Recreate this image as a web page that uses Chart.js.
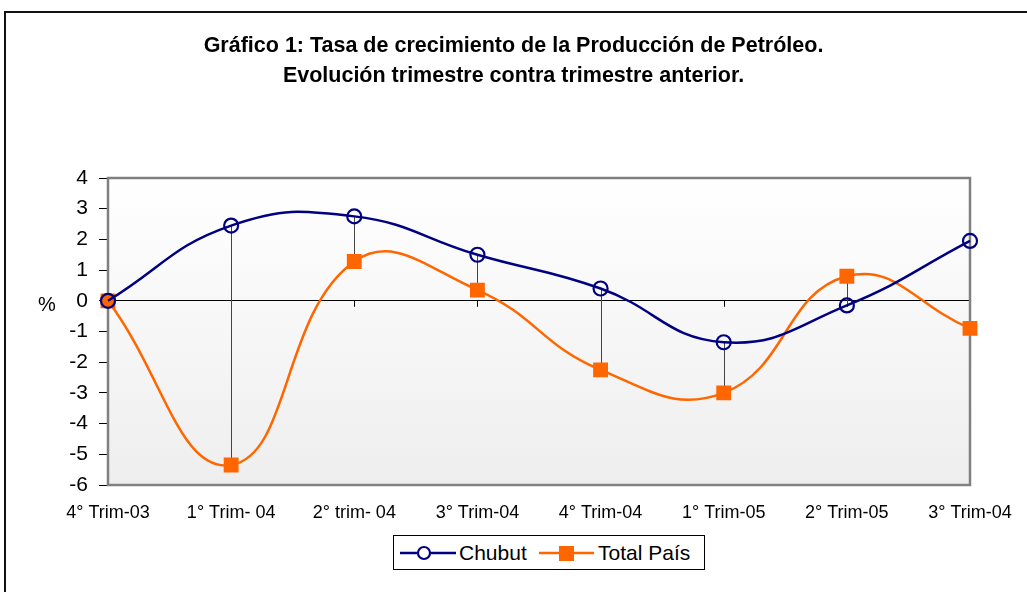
<!DOCTYPE html>
<html>
<head>
<meta charset="utf-8">
<script src="https://cdn.jsdelivr.net/npm/chart.js@4.4.0/dist/chart.umd.min.js"></script>
<style>
    html, body { margin: 0; padding: 0; background: #fff; overflow: hidden; }
    body { width: 1027px; height: 592px; position: relative; font-family: Arial, 'Liberation Sans', sans-serif; }
    #frame { position: absolute; left: 4px; top: 11px; width: 1100px; height: 700px; border: 2px solid #111; box-sizing: border-box; }
    #wrap { position: absolute; left: 0; top: 0; width: 1027px; height: 592px; }
    #legend {
        position: absolute; left: 393px; top: 535px; width: 312px; height: 35px;
        border: 1px solid #000; box-sizing: border-box; background: #fff;
        font-size: 21px; color: #000;
    }
    #legend svg, #legend span { position: absolute; }
    #legend span { top: 5px; line-height: 24px; }
</style>
</head>
<body>
<div id="frame"></div>
<div id="wrap"><canvas id="growthChart" width="1027" height="592"></canvas></div>
<div id="legend">
    <svg style="left:6px;top:7px" width="56" height="20"><line x1="0" y1="10" x2="56" y2="10" stroke="#000080" stroke-width="2.5"/><circle cx="24" cy="10" r="6" fill="#fff" stroke="#000080" stroke-width="2.2"/></svg>
    <span style="left:65px">Chubut</span>
    <svg style="left:145px;top:7px" width="55" height="20"><line x1="0" y1="10" x2="55" y2="10" stroke="#FF6600" stroke-width="2.5"/><rect x="20" y="3" width="15" height="15" fill="#FF6600"/></svg>
    <span style="left:204px">Total País</span>
</div>
<script>
// Data
const categories = ['4° Trim-03', '1° Trim- 04', '2° trim- 04', '3° Trim-04', '4° Trim-04', '1° Trim-05', '2° Trim-05', '3° Trim-04'];
const chubutValues = [0, 2.45, 2.75, 1.5, 0.4, -1.35, -0.15, 1.95];
const totalPaisValues = [0, -5.35, 1.28, 0.35, -2.25, -3.0, 0.8, -0.9];
const yMin = -6;
const yMax = 4;

const FONT = "Arial, 'Liberation Sans', sans-serif";

// Plot background, drop lines, zero-line ticks, border and the "%" label
const plotExtras = {
    id: 'plotExtras',
    beforeDraw(chart) {
        const { ctx, chartArea: a } = chart;
        const grad = ctx.createLinearGradient(0, a.top, 0, a.bottom);
        grad.addColorStop(0, '#ffffff');
        grad.addColorStop(1, '#eeeeee');
        ctx.save();
        ctx.fillStyle = grad;
        ctx.fillRect(a.left, a.top, a.right - a.left, a.bottom - a.top);
        ctx.restore();
    },
    beforeDatasetsDraw(chart) {
        const { ctx, chartArea: a, scales } = chart;
        const x = scales.x, y = scales.y;
        const zeroY = y.getPixelForValue(0);
        ctx.save();
        // small tick marks hanging under the zero line
        ctx.strokeStyle = '#000';
        ctx.lineWidth = 1;
        categories.forEach((c, i) => {
            const px = Math.round(x.getPixelForValue(i)) + 0.5;
            ctx.beginPath();
            ctx.moveTo(px, zeroY);
            ctx.lineTo(px, zeroY + 6);
            ctx.stroke();
        });
        // high-low drop lines between the two series
        ctx.strokeStyle = '#444';
        categories.forEach((c, i) => {
            const px = Math.round(x.getPixelForValue(i)) + 0.5;
            ctx.beginPath();
            ctx.moveTo(px, y.getPixelForValue(chubutValues[i]));
            ctx.lineTo(px, y.getPixelForValue(totalPaisValues[i]));
            ctx.stroke();
        });
        // plot area border
        ctx.strokeStyle = '#808080';
        ctx.lineWidth = 2.5;
        ctx.strokeRect(a.left, a.top, a.right - a.left, a.bottom - a.top);
        // "%" axis label
        ctx.fillStyle = '#000';
        ctx.font = '20px ' + FONT;
        ctx.textAlign = 'center';
        ctx.textBaseline = 'middle';
        ctx.fillText('%', 47, zeroY + 5);
        ctx.restore();
    }
};

function initializeChart() {
    const ctx = document.getElementById('growthChart').getContext('2d');
    window.growthChart = new Chart(ctx, {
        type: 'line',
        data: {
            labels: categories,
            datasets: [{
                label: 'Chubut',
                data: chubutValues,
                borderColor: '#000080',
                borderWidth: 2.5,
                backgroundColor: '#fcfcfc',
                pointStyle: 'circle',
                pointRadius: 7,
                pointBorderWidth: 2.2,
                pointBorderColor: '#000080',
                pointBackgroundColor: 'rgba(255,255,255,0)',
                tension: 0.45,
                cubicInterpolationMode: 'default'
            }, {
                label: 'Total País',
                data: totalPaisValues,
                borderColor: '#FF6600',
                borderWidth: 2.5,
                backgroundColor: '#FF6600',
                pointStyle: 'rect',
                pointRadius: 10.5,
                pointBorderWidth: 0,
                pointBackgroundColor: '#FF6600',
                tension: 0.45,
                cubicInterpolationMode: 'default'
            }]
        },
        options: {
            responsive: false,
            animation: false,
            devicePixelRatio: 1,
            layout: { padding: 0 },
            plugins: {
                legend: { display: false },
                tooltip: { enabled: false },
                title: {
                    display: true,
                    text: ['Gráfico 1: Tasa de crecimiento de la Producción de Petróleo.', 'Evolución trimestre contra trimestre anterior.'],
                    color: '#000',
                    font: { family: FONT, size: 21.5, weight: 'bold', lineHeight: '30px' },
                    padding: { top: 31, bottom: 87 }
                }
            },
            scales: {
                x: {
                    offset: false,
                    grid: { display: false, drawTicks: false },
                    border: { display: false },
                    ticks: {
                        color: '#000',
                        font: { family: FONT, size: 18 },
                        padding: 17,
                        maxRotation: 0,
                        autoSkip: false
                    },
                    afterFit(scale) {
                        scale.height = 107;
                        scale.paddingRight = 57;
                    }
                },
                y: {
                    min: yMin,
                    max: yMax,
                    border: { display: false },
                    grid: {
                        color: c => (c.tick && c.tick.value === 0) ? '#000' : 'rgba(0,0,0,0)',
                        tickColor: '#000',
                        tickLength: 9,
                        lineWidth: 1
                    },
                    ticks: {
                        stepSize: 1,
                        color: '#000',
                        font: { family: FONT, size: 21 },
                        padding: 11
                    },
                    afterFit(scale) { scale.width = 108; }
                }
            }
        },
        plugins: [plotExtras]
    });
}

document.addEventListener('DOMContentLoaded', initializeChart);
</script>
</body>
</html>
